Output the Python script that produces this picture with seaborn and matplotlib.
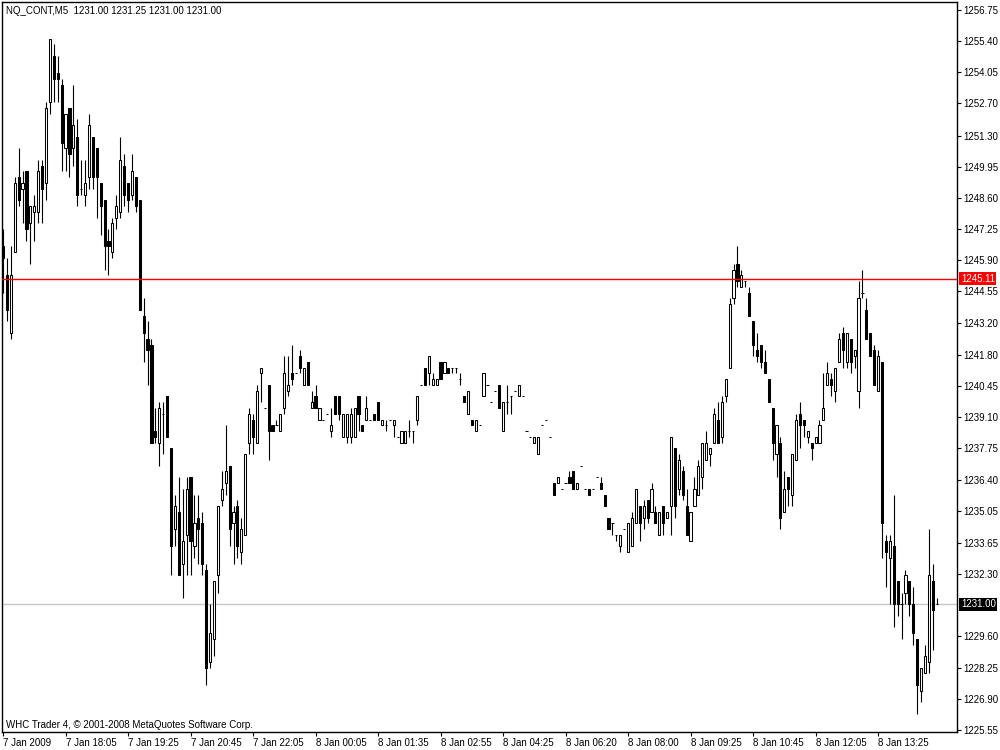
import numpy as np
import seaborn as sns
import matplotlib
matplotlib.use("Agg")
import matplotlib.pyplot as plt

# NQ_CONT M5 bars, 7 Jan 2009 16:45 -> 8 Jan 2009
opens = [
    1246.50, 1245.25, 1242.75, 1246.25, 1249.50, 1249.00, 1249.75, 1247.50, 1248.00, 1248.00,
    1250.00, 1249.25, 1252.75, 1254.75, 1254.00, 1253.50, 1250.75, 1252.50, 1250.75, 1251.25,
    1249.00, 1248.75, 1249.50, 1251.25, 1250.75, 1249.25, 1248.50, 1246.75, 1246.25, 1247.75,
    1248.00, 1250.00, 1249.25, 1248.75, 1249.50, 1248.50, 1243.50, 1242.50, 1242.25, 1238.50,
    1238.00, 1239.25, 1240.00, 1237.75, 1234.25, 1235.00, 1232.75, 1234.00, 1236.50, 1233.50,
    1234.75, 1234.50, 1232.50, 1228.50, 1229.50, 1232.25, 1235.50, 1236.25, 1237.00, 1234.50,
    1235.25, 1233.25, 1234.00, 1238.00, 1239.00, 1238.00, 1241.00, 1239.50, 1240.50, 1238.75,
    1238.75, 1238.50, 1239.50, 1240.25, 1241.00, 1241.00, 1241.75, 1240.50, 1241.50, 1239.50,
    1240.00, 1239.00, 1239.00, 1239.25, 1238.50, 1240.00, 1240.00, 1238.25, 1238.25, 1238.25,
    1238.25, 1240.00, 1238.75, 1239.00, 1239.00, 1239.25, 1239.75, 1238.75, 1238.75, 1239.00,
    1238.75, 1238.25, 1238.00, 1238.00, 1238.50, 1238.50, 1239.00, 1240.50, 1241.25, 1241.00,
    1240.50, 1240.50, 1241.50, 1241.00, 1241.25, 1241.25, 1241.25, 1240.75, 1240.00, 1239.25,
    1239.00, 1238.50, 1238.75, 1240.00, 1240.50, 1239.75, 1240.25, 1240.50, 1238.50, 1239.75,
    1240.00, 1240.25, 1240.00, 1240.00, 1238.50, 1238.25, 1238.00, 1237.50, 1238.75, 1239.00,
    1238.25, 1236.25, 1236.25, 1236.00, 1236.25, 1236.50, 1236.75, 1236.00, 1237.00, 1236.00,
    1236.00, 1236.00, 1236.50, 1236.25, 1235.75, 1234.75, 1234.50, 1234.00, 1233.50, 1234.25,
    1233.25, 1233.50, 1234.50, 1235.25, 1234.75, 1235.50, 1235.00, 1235.00, 1234.00, 1235.25,
    1234.75, 1235.25, 1237.75, 1236.00, 1236.75, 1235.25, 1233.75, 1235.25, 1235.75, 1236.50,
    1237.25, 1237.50, 1238.00, 1239.00, 1238.25, 1240.00, 1241.25, 1244.25, 1245.75, 1244.75,
    1245.00, 1244.50, 1243.25, 1242.00, 1242.25, 1241.50, 1240.75, 1239.50, 1237.50, 1238.00,
    1235.00, 1236.50, 1235.75, 1237.25, 1239.25, 1239.00, 1238.25, 1238.00, 1238.00, 1238.00,
    1239.00, 1240.50, 1240.75, 1240.25, 1241.50, 1242.75, 1241.50, 1242.50, 1241.75, 1240.25,
    1244.50, 1243.75, 1242.75, 1242.00, 1240.25, 1241.50, 1233.75, 1233.00, 1233.50, 1232.00,
    1231.00, 1231.50, 1232.00, 1231.00, 1229.50, 1227.25, 1228.00, 1228.50, 1232.00, 1231.00,
]
highs = [
    1247.25, 1246.00, 1246.50, 1249.50, 1250.75, 1249.75, 1249.75, 1248.25, 1248.75, 1250.25,
    1250.25, 1252.75, 1255.50, 1255.25, 1254.75, 1253.75, 1252.25, 1252.50, 1253.50, 1252.00,
    1250.25, 1250.25, 1252.25, 1251.25, 1250.75, 1249.25, 1248.50, 1247.25, 1247.75, 1248.75,
    1251.25, 1250.50, 1249.25, 1250.50, 1249.50, 1248.50, 1244.25, 1243.25, 1242.50, 1239.50,
    1239.75, 1239.75, 1240.00, 1237.75, 1235.75, 1236.50, 1236.00, 1236.50, 1236.50, 1235.75,
    1235.75, 1235.00, 1232.75, 1231.00, 1232.00, 1235.25, 1236.75, 1238.75, 1237.00, 1235.25,
    1235.50, 1234.75, 1237.50, 1239.50, 1239.25, 1240.50, 1241.25, 1239.50, 1240.50, 1238.75,
    1239.00, 1239.25, 1241.75, 1241.75, 1242.25, 1241.00, 1242.00, 1241.25, 1241.50, 1240.25,
    1240.50, 1239.50, 1239.00, 1239.25, 1239.50, 1240.00, 1240.00, 1239.25, 1239.25, 1239.50,
    1239.50, 1240.00, 1238.75, 1240.00, 1239.00, 1239.25, 1239.75, 1239.00, 1239.00, 1239.00,
    1239.00, 1238.25, 1238.50, 1238.50, 1239.00, 1238.50, 1240.00, 1240.50, 1241.25, 1241.75,
    1241.00, 1240.75, 1241.50, 1241.50, 1241.25, 1241.25, 1241.25, 1241.00, 1240.00, 1240.25,
    1239.00, 1239.00, 1238.75, 1241.00, 1240.50, 1239.75, 1240.25, 1240.50, 1239.75, 1240.50,
    1240.00, 1240.25, 1240.50, 1240.00, 1238.50, 1238.25, 1238.25, 1238.25, 1238.75, 1239.00,
    1238.25, 1236.25, 1236.50, 1236.00, 1236.25, 1236.75, 1236.75, 1236.25, 1237.00, 1236.00,
    1236.00, 1236.00, 1236.50, 1236.50, 1235.75, 1234.75, 1234.50, 1234.00, 1234.00, 1234.25,
    1234.50, 1235.00, 1236.00, 1235.25, 1235.50, 1235.50, 1236.25, 1235.25, 1235.00, 1235.25,
    1235.00, 1238.25, 1237.75, 1237.50, 1237.00, 1236.00, 1235.00, 1236.50, 1237.25, 1238.00,
    1238.50, 1237.75, 1239.50, 1239.75, 1240.00, 1240.75, 1244.25, 1245.75, 1246.50, 1245.50,
    1245.00, 1244.75, 1243.25, 1242.75, 1242.25, 1242.00, 1240.75, 1239.50, 1238.75, 1238.25,
    1236.75, 1236.50, 1237.50, 1239.25, 1239.75, 1239.00, 1238.50, 1238.00, 1238.25, 1239.00,
    1241.00, 1241.50, 1241.00, 1241.25, 1242.75, 1243.00, 1242.75, 1242.50, 1242.00, 1245.00,
    1245.50, 1244.25, 1242.75, 1242.25, 1242.00, 1241.50, 1234.00, 1234.00, 1235.75, 1232.00,
    1231.50, 1232.50, 1232.00, 1231.75, 1229.50, 1228.25, 1229.25, 1234.25, 1232.75, 1231.25,
]
lows = [
    1244.50, 1243.25, 1242.50, 1246.25, 1248.25, 1247.50, 1246.75, 1245.75, 1246.75, 1247.50,
    1247.50, 1248.50, 1252.25, 1252.75, 1252.75, 1249.75, 1249.75, 1249.50, 1250.00, 1248.25,
    1248.75, 1248.25, 1249.00, 1249.00, 1247.75, 1247.00, 1245.50, 1245.25, 1246.00, 1247.25,
    1247.75, 1248.25, 1248.00, 1248.50, 1248.00, 1243.75, 1241.50, 1240.50, 1238.00, 1238.00,
    1237.00, 1237.50, 1238.25, 1232.25, 1233.50, 1232.25, 1231.25, 1232.25, 1232.25, 1233.00,
    1232.75, 1232.25, 1227.50, 1228.25, 1228.75, 1231.50, 1235.25, 1235.75, 1233.50, 1232.75,
    1233.00, 1232.75, 1234.00, 1237.50, 1237.50, 1238.00, 1239.75, 1239.50, 1237.25, 1238.50,
    1238.75, 1238.50, 1239.25, 1240.00, 1240.50, 1241.00, 1241.00, 1240.50, 1240.50, 1239.50,
    1239.50, 1239.00, 1239.00, 1239.25, 1238.25, 1239.25, 1239.00, 1238.25, 1238.00, 1238.00,
    1238.25, 1238.50, 1238.50, 1239.00, 1239.00, 1239.00, 1239.00, 1238.75, 1238.50, 1239.00,
    1238.25, 1238.25, 1238.00, 1238.00, 1238.25, 1238.00, 1238.75, 1240.50, 1240.50, 1240.50,
    1240.50, 1240.50, 1240.75, 1241.00, 1241.00, 1241.00, 1241.00, 1240.50, 1239.75, 1239.25,
    1238.75, 1238.50, 1238.75, 1240.00, 1240.50, 1239.75, 1240.25, 1239.50, 1238.50, 1239.25,
    1239.25, 1240.25, 1240.00, 1240.00, 1238.50, 1238.25, 1238.00, 1237.50, 1238.75, 1239.00,
    1238.25, 1235.75, 1236.25, 1236.00, 1236.25, 1236.25, 1236.00, 1236.00, 1237.00, 1236.00,
    1235.75, 1236.00, 1236.50, 1236.00, 1235.25, 1234.25, 1234.00, 1233.75, 1233.25, 1234.25,
    1233.25, 1233.50, 1234.50, 1233.75, 1234.25, 1234.50, 1235.00, 1234.50, 1234.00, 1234.00,
    1234.75, 1234.00, 1234.75, 1235.75, 1235.50, 1234.00, 1233.75, 1235.25, 1235.75, 1236.00,
    1237.25, 1237.00, 1238.00, 1238.00, 1238.00, 1239.75, 1241.25, 1244.00, 1244.75, 1244.75,
    1244.75, 1243.50, 1241.75, 1241.50, 1241.25, 1241.00, 1239.75, 1237.25, 1236.50, 1234.25,
    1235.00, 1235.25, 1235.25, 1237.25, 1237.75, 1238.25, 1238.00, 1237.25, 1238.00, 1238.00,
    1239.00, 1240.50, 1240.00, 1239.75, 1241.50, 1241.25, 1241.25, 1241.00, 1241.25, 1239.50,
    1244.25, 1242.50, 1241.75, 1240.50, 1240.25, 1233.00, 1231.75, 1231.00, 1230.00, 1230.50,
    1229.50, 1231.00, 1230.50, 1229.25, 1226.25, 1226.75, 1228.00, 1228.00, 1229.00, 1231.00,
]
closes = [
    1246.00, 1243.75, 1245.25, 1249.25, 1248.50, 1249.25, 1247.25, 1248.25, 1248.25, 1249.75,
    1249.00, 1252.50, 1255.50, 1253.75, 1253.75, 1251.00, 1252.25, 1250.50, 1251.75, 1248.75,
    1249.00, 1249.25, 1251.75, 1249.50, 1249.50, 1248.25, 1246.50, 1246.50, 1247.50, 1248.25,
    1250.25, 1248.75, 1248.50, 1249.75, 1248.25, 1243.75, 1242.75, 1242.00, 1238.00, 1238.25,
    1239.50, 1239.25, 1238.25, 1233.50, 1235.25, 1232.25, 1233.75, 1236.00, 1233.75, 1234.50,
    1234.25, 1232.75, 1228.25, 1229.75, 1232.00, 1235.25, 1236.00, 1236.75, 1234.25, 1235.00,
    1233.50, 1234.25, 1237.50, 1239.25, 1238.25, 1240.25, 1241.25, 1239.50, 1238.50, 1238.50,
    1238.75, 1239.25, 1241.00, 1240.50, 1240.75, 1241.00, 1241.25, 1241.25, 1240.50, 1239.75,
    1239.50, 1239.50, 1239.00, 1239.25, 1238.75, 1239.25, 1239.25, 1239.25, 1239.25, 1239.25,
    1239.50, 1239.25, 1238.50, 1239.50, 1239.00, 1239.00, 1239.00, 1239.00, 1238.75, 1239.00,
    1239.00, 1238.25, 1238.50, 1238.50, 1238.50, 1238.50, 1240.00, 1240.50, 1240.50, 1241.75,
    1240.75, 1240.75, 1240.75, 1241.50, 1241.00, 1241.25, 1241.25, 1240.75, 1239.75, 1240.25,
    1238.75, 1239.00, 1238.75, 1241.00, 1240.50, 1239.75, 1240.25, 1239.50, 1239.75, 1239.75,
    1240.00, 1240.25, 1240.50, 1240.00, 1238.50, 1238.25, 1238.25, 1238.25, 1238.75, 1239.00,
    1238.25, 1235.75, 1236.50, 1236.00, 1236.25, 1236.25, 1236.00, 1236.25, 1237.00, 1236.00,
    1235.75, 1236.00, 1236.50, 1236.00, 1235.25, 1234.25, 1234.50, 1234.00, 1234.00, 1234.25,
    1234.50, 1234.75, 1236.00, 1234.50, 1235.25, 1234.75, 1236.00, 1234.50, 1235.00, 1234.50,
    1235.00, 1238.25, 1235.25, 1237.25, 1235.75, 1234.00, 1235.00, 1236.00, 1237.00, 1238.00,
    1238.00, 1237.75, 1239.25, 1238.00, 1239.75, 1240.75, 1244.00, 1245.50, 1245.00, 1245.25,
    1245.00, 1243.50, 1242.25, 1241.75, 1241.50, 1241.00, 1239.75, 1238.00, 1238.75, 1234.75,
    1236.00, 1236.00, 1237.50, 1239.00, 1238.75, 1238.75, 1238.50, 1237.75, 1238.25, 1238.75,
    1239.50, 1241.00, 1240.50, 1241.25, 1242.50, 1242.00, 1242.75, 1241.50, 1242.00, 1244.25,
    1244.50, 1242.50, 1241.75, 1240.50, 1241.75, 1234.50, 1233.25, 1233.75, 1231.00, 1231.00,
    1231.00, 1232.25, 1231.00, 1229.75, 1227.50, 1228.25, 1228.75, 1232.25, 1230.75, 1231.00,
]

# time labels, one every 16 bars
time_labels = ["7 Jan 2009", "7 Jan 18:05", "7 Jan 19:25", "7 Jan 20:45", "7 Jan 22:05",
               "8 Jan 00:05", "8 Jan 01:35", "8 Jan 02:55", "8 Jan 04:25", "8 Jan 06:20",
               "8 Jan 08:00", "8 Jan 09:25", "8 Jan 10:45", "8 Jan 12:05", "8 Jan 13:25"]
price_ticks = [1256.75, 1255.40, 1254.05, 1252.70, 1251.30, 1249.95, 1248.60, 1247.25,
               1245.90, 1244.55, 1243.20, 1241.80, 1240.45, 1239.10, 1237.75, 1236.40,
               1235.05, 1233.65, 1232.30, 1229.60, 1228.25, 1226.90, 1225.55]
level_line = 1245.11
bid_price = 1231.00

sns.set_style("white")
plt.rcParams["font.family"] = ["Liberation Sans", "DejaVu Sans"]

o = np.array(opens)
h = np.array(highs)
l = np.array(lows)
c = np.array(closes)
x = np.arange(len(o))
bull = c >= o

fig = plt.figure(figsize=(10, 7.5), dpi=100)
ax = fig.add_axes([0.002, 0.024, 0.955, 0.9733])

# wicks, then bodies on top
ax.vlines(x, l, h, color="black", linewidth=0.8, zorder=2)
ax.bar(x, np.abs(c - o), bottom=np.minimum(o, c), width=0.55,
       color=np.where(bull, "white", "black"), edgecolor="black",
       linewidth=0.75, zorder=3)

ax.axhline(level_line, color="#ff0000", linewidth=1.0, zorder=4)
ax.axhline(bid_price, color="#c8c8c8", linewidth=1.0, zorder=1)

ax.set_xlim(-0.26, 244.2)
ax.set_ylim(1225.46, 1257.09)

ax.yaxis.tick_right()
ax.set_yticks(price_ticks)
ax.set_yticklabels([f"{v:.2f}" for v in price_ticks])
ax.set_xticks(np.arange(len(time_labels)) * 16)
ax.set_xticklabels(time_labels, ha="left")
ax.tick_params(axis="both", direction="out", length=3, width=0.8,
               colors="black", labelsize=7, pad=1.5)
ax.tick_params(axis="y", right=True, left=False)
ax.tick_params(axis="x", bottom=True)

for s in ax.spines.values():
    s.set_color("black")
    s.set_linewidth(1.0)

ytr = ax.get_yaxis_transform()
ax.text(1.004, level_line, f"{level_line:.2f}", transform=ytr, ha="left", va="center",
        fontsize=7, color="white", clip_on=False, zorder=6,
        bbox=dict(boxstyle="square,pad=0.15", fc="#ff0000", ec="none"))
ax.text(1.004, bid_price, f"{bid_price:.2f}", transform=ytr, ha="left", va="center",
        fontsize=7, color="white", clip_on=False, zorder=6,
        bbox=dict(boxstyle="square,pad=0.15", fc="black", ec="none"))

fig.text(0.006, 0.986, "NQ_CONT,M5  1231.00 1231.25 1231.00 1231.00",
         fontsize=7, va="center", ha="left", color="black")
fig.text(0.006, 0.034, "WHC Trader 4, \u00a9 2001-2008 MetaQuotes Software Corp.",
         fontsize=7, va="center", ha="left", color="black")

fig.savefig("out.png", dpi=100)
